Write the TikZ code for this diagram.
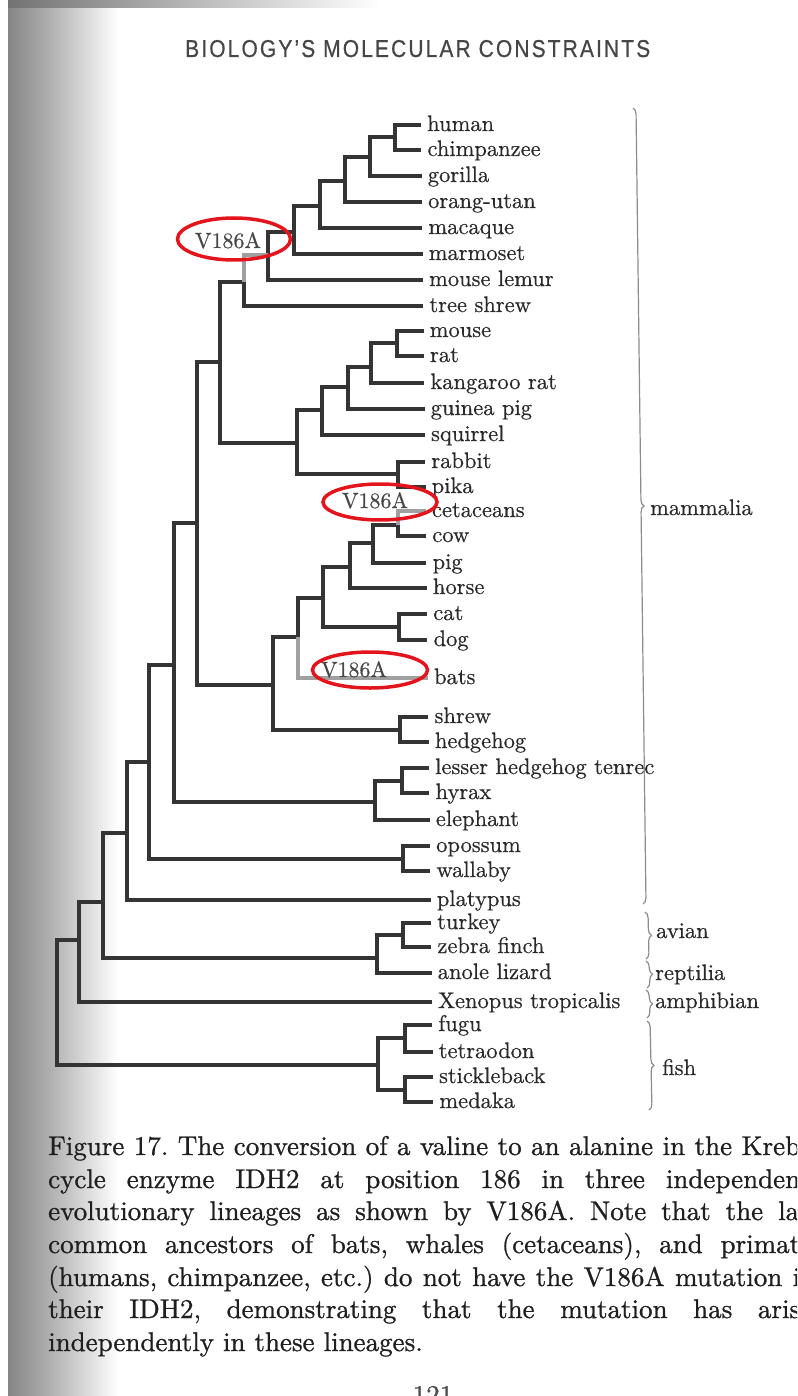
\documentclass[tikz,border=0pt]{standalone}
\usepackage{fontspec}
\newfontfamily\headfont[LetterSpace=10,FakeBold=0.6]{Liberation Sans}
\newfontfamily\capfont[FakeBold=0.9]{lmroman10-regular.otf}
\newfontfamily\labfont[FakeBold=0.5]{lmroman10-regular.otf}
\usetikzlibrary{decorations.pathreplacing,shapes.geometric}
\definecolor{ink}{HTML}{343434}
\definecolor{hilite}{HTML}{A0A0A0}
\definecolor{ringred}{HTML}{E3141C}
\definecolor{txt}{HTML}{2A2A2A}
\definecolor{hdrgray}{HTML}{464646}
\definecolor{bracegray}{HTML}{8C8C8C}
\newcommand\mkleaf[3]{%
  \coordinate (t-#1) at ({421+0.0125*(#2-125)},#2);
  \node[leaf] (#1) at ({427+0.0125*(#2-125)},{#2+6}) {#3};}
\tikzset{
  br/.style={draw=ink, line width=3.2pt},
  brhl/.style={draw=hilite, line width=3.6pt},
  leaf/.style={anchor=base west, inner sep=0pt, text=txt, font=\labfont\fontsize{22.5}{27}\selectfont},
  grouplabel/.style={anchor=base west, inner sep=0pt, text=txt, font=\labfont\fontsize{22.5}{27}\selectfont},
  bracket/.style={draw=bracegray, line width=1.2pt, decorate, decoration={brace, amplitude=6pt}},
  mutlabel/.style={anchor=base, inner sep=0pt, text=black!72, font=\labfont\fontsize{22}{26}\selectfont},
  mutring/.style={ellipse, draw=ringred, line width=3.5pt, inner sep=0pt},
  captionline/.style={anchor=base west, inner sep=0pt, text=black!88, font=\capfont\fontsize{27}{33}\selectfont\frenchspacing},
}
\begin{document}
\begin{tikzpicture}[x=1pt,y=-1pt]
\useasboundingbox (0,0) rectangle (797,1396);
\clip (0,0) rectangle (797,1396);
\fill[white] (0,0) rectangle (797,1396);
% gutter shadow
\shade[left color=black!48, right color=black!32] (8,0) rectangle (48,1396);
\shade[left color=black!32, right color=white] (48,0) rectangle (118,1396);
\shade[left color=black!55, right color=white] (8,0) rectangle (380,8);

% header
\node[anchor=base west, inner sep=0pt] (hdr) at (185,57)
  {\color{hdrgray}\resizebox{465pt}{17pt}{\headfont BIOLOGY’S MOLECULAR CONSTRAINTS}};

% leaves
\mkleaf{human}{125}{human}
\mkleaf{chimp}{150}{chimpanzee}
\mkleaf{gorilla}{176}{gorilla}
\mkleaf{orang}{202}{orang-utan}
\mkleaf{macaque}{228}{macaque}
\mkleaf{marmoset}{254}{marmoset}
\mkleaf{lemur}{280}{mouse lemur}
\mkleaf{treeshrew}{306}{tree shrew}
\mkleaf{mouse}{331}{mouse}
\mkleaf{rat}{356}{rat}
\mkleaf{kangaroo}{383}{kangaroo rat}
\mkleaf{guinea}{409}{guinea pig}
\mkleaf{squirrel}{435}{squirrel}
\mkleaf{rabbit}{462}{rabbit}
\mkleaf{pika}{487}{pika}
\mkleaf{cetaceans}{511}{cetaceans}
\mkleaf{cow}{536}{cow}
\mkleaf{pig}{563}{pig}
\mkleaf{horse}{588}{horse}
\mkleaf{cat}{614}{cat}
\mkleaf{dog}{640}{dog}
\mkleaf{bats}{678}{bats}
\mkleaf{shrew}{717}{shrew}
\mkleaf{hedgehog}{742}{hedgehog}
\mkleaf{lesser}{768}{lesser hedgehog tenrec}
\mkleaf{hyrax}{793}{hyrax}
\mkleaf{elephant}{820}{elephant}
\mkleaf{opossum}{846}{opossum}
\mkleaf{wallaby}{871}{wallaby}
\mkleaf{platypus}{900}{platypus}
\mkleaf{turkey}{923}{turkey}
\mkleaf{zebra}{947}{zebra finch}
\mkleaf{anole}{973}{anole lizard}
\mkleaf{xenopus}{1002}{Xenopus tropicalis}
\mkleaf{fugu}{1025}{fugu}
\mkleaf{tetraodon}{1052}{tetraodon}
\mkleaf{stickleback}{1077}{stickleback}
\mkleaf{medaka}{1102}{medaka}

% internal nodes
\coordinate (hc) at (395,137);
\coordinate (n370) at (370,157);
\coordinate (n345) at (345,181);
\coordinate (n320) at (320,206);
\coordinate (n294) at (294,232);
\coordinate (n268) at (268,255);
\coordinate (n244) at (244,282);
\coordinate (mr) at (397,343);
\coordinate (n371) at (371,367);
\coordinate (n348) at (348,387);
\coordinate (n322) at (322,410);
\coordinate (lag) at (398,474);
\coordinate (n297) at (297,443);
\coordinate (n220) at (220,362);
\coordinate (cc) at (398,525);
\coordinate (n373) at (373,543);
\coordinate (n350) at (350,567);
\coordinate (cd) at (399,627);
\coordinate (n323) at (323,598);
\coordinate (n298) at (298,637);
\coordinate (sh) at (400,730);
\coordinate (n273) at (273,685);
\coordinate (n197) at (197,523);
\coordinate (lh) at (402,781);
\coordinate (n375) at (375,802);
\coordinate (n174) at (174,665);
\coordinate (ow) at (403,859);
\coordinate (n149) at (149,762);
\coordinate (n127) at (127,833);
\coordinate (tz) at (403,935);
\coordinate (n377) at (377,958);
\coordinate (n103) at (103,902);
\coordinate (n79) at (79,940);
\coordinate (ft) at (405,1038);
\coordinate (sm) at (405,1090);
\coordinate (n378) at (378,1065);
\coordinate (root) at (57,1002);

% branches
\draw[br] (hc) |- (t-human);  \draw[br] (hc) |- (t-chimp);
\draw[br] (n370) |- (hc);     \draw[br] (n370) |- (t-gorilla);
\draw[br] (n345) |- (n370);   \draw[br] (n345) |- (t-orang);
\draw[br] (n320) |- (n345);   \draw[br] (n320) |- (t-macaque);
\draw[br] (n294) |- (n320);   \draw[br] (n294) |- (t-marmoset);
\draw[br] (n268) |- (n294);   \draw[br] (n268) |- (t-lemur);
\draw[br] (n244) |- (t-treeshrew);
\draw[br] (mr) |- (t-mouse);  \draw[br] (mr) |- (t-rat);
\draw[br] (n371) |- (mr);     \draw[br] (n371) |- (t-kangaroo);
\draw[br] (n348) |- (n371);   \draw[br] (n348) |- (t-guinea);
\draw[br] (n322) |- (n348);   \draw[br] (n322) |- (t-squirrel);
\draw[br] (lag) |- (t-rabbit); \draw[br] (lag) |- (t-pika);
\draw[br] (n297) |- (n322);   \draw[br] (n297) |- (lag);
\draw[br] (n220) |- (n244);   \draw[br] (n220) |- (n297);
\draw[br] (cc) |- (t-cow);
\draw[br] (n373) |- (cc);     \draw[br] (n373) |- (t-pig);
\draw[br] (n350) |- (n373);   \draw[br] (n350) |- (t-horse);
\draw[br] (cd) |- (t-cat);    \draw[br] (cd) |- (t-dog);
\draw[br] (n323) |- (n350);   \draw[br] (n323) |- (cd);
\draw[br] (n298) |- (n323);
\draw[br] (sh) |- (t-shrew);  \draw[br] (sh) |- (t-hedgehog);
\draw[br] (n273) |- (n298);   \draw[br] (n273) |- (sh);
\draw[br] (n197) |- (n220);   \draw[br] (n197) |- (n273);
\draw[br] (lh) |- (t-lesser); \draw[br] (lh) |- (t-hyrax);
\draw[br] (n375) |- (lh);     \draw[br] (n375) |- (t-elephant);
\draw[br] (n174) |- (n197);   \draw[br] (n174) |- (n375);
\draw[br] (ow) |- (t-opossum); \draw[br] (ow) |- (t-wallaby);
\draw[br] (n149) |- (n174);   \draw[br] (n149) |- (ow);
\draw[br] (n127) |- (n149);   \draw[br] (n127) |- (t-platypus);
\draw[br] (tz) |- (t-turkey); \draw[br] (tz) |- (t-zebra);
\draw[br] (n377) |- (tz);     \draw[br] (n377) |- (t-anole);
\draw[br] (n103) |- (n127);   \draw[br] (n103) |- (n377);
\draw[br] (n79) |- (n103);    \draw[br] (n79) |- (t-xenopus);
\draw[br] (ft) |- (t-fugu);   \draw[br] (ft) |- (t-tetraodon);
\draw[br] (sm) |- (t-stickleback); \draw[br] (sm) |- (t-medaka);
\draw[br] (n378) |- (ft);     \draw[br] (n378) |- (sm);
\draw[br] (root) |- (n79);    \draw[br] (root) |- (n378);
% highlighted (V186A) branches
\draw[brhl] (n244) |- (n268);
\draw[brhl] (cc) |- (t-cetaceans);
\draw[brhl] (n298) |- (t-bats);

% group brackets
\draw[bracket] (633,108) -- (643,904);
\draw[bracket] (645,912) -- (646,959);
\draw[bracket] (646,961) -- (647,988);
\draw[bracket] (646,990) -- (647,1018);
\draw[bracket] (647,1021) -- (649,1110);
\node[grouplabel] (gmam) at (650,515) {mammalia};
\node[grouplabel] (gavi) at (656,938) {avian};
\node[grouplabel] (grep) at (655,980) {reptilia};
\node[grouplabel] (gamp) at (655,1008) {amphibian};
\node[grouplabel] (gfis) at (662,1075) {fish};

% mutation marks
\node[mutlabel] (m1) at (228,248) {V186A};
\node[mutlabel] (m2) at (375,508) {V186A};
\node[mutlabel] (m3) at (354,677) {V186A};
\node[mutring, minimum width=113pt, minimum height=42pt] (r1) at (234,239) {};
\node[mutring, minimum width=114pt, minimum height=36pt] (r2) at (380,502) {};
\node[mutring, minimum width=115pt, minimum height=36pt] (r3) at (370,670) {};

% caption
\node[captionline] (c1) at (48,1155) {\makebox[752pt][s]{Figure 17. The conversion of a valine to an alanine in the Kreb}};
\node[captionline] (c2) at (48,1188) {\makebox[752pt][s]{cycle enzyme IDH2 at position 186 in three independen}};
\node[captionline] (c3) at (48,1220) {\makebox[751pt][s]{evolutionary lineages as shown by V186A. Note that the la}};
\node[captionline] (c4) at (48,1253) {\makebox[752pt][s]{common ancestors of bats, whales (cetaceans), and primat}};
\node[captionline] (c5) at (48,1286) {\makebox[752pt][s]{(humans, chimpanzee, etc.) do not have the V186A mutation i}};
\node[captionline] (c6) at (48,1318) {\makebox[752pt][s]{their IDH2, demonstrating that the mutation has aris}};
\node[captionline] (c7) at (48,1351) {independently in these lineages.};
\node[anchor=base, inner sep=0pt, text=black!70, font=\capfont\fontsize{27}{33}\selectfont] (pg) at (433,1404) {121};
\end{tikzpicture}
\end{document}
